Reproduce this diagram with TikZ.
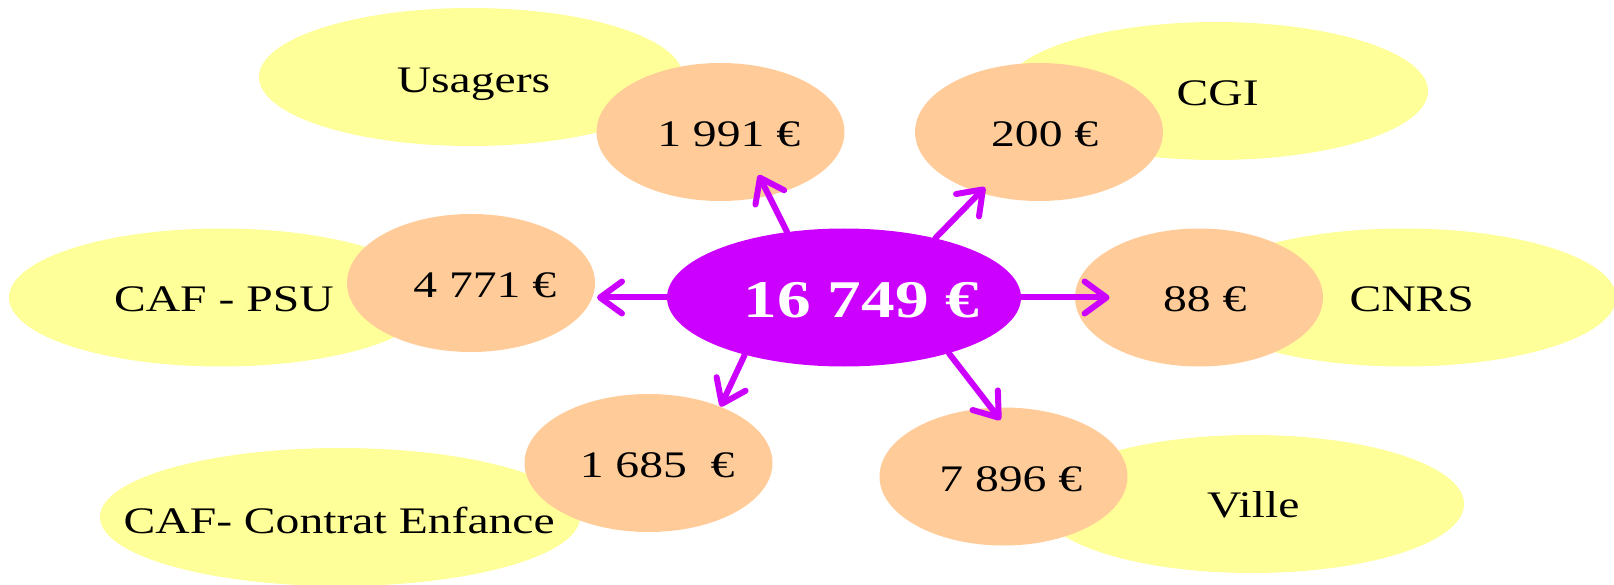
\documentclass[tikz,border=0pt]{standalone}
\usepackage{fontspec}
\setmainfont{Liberation Serif}
\newfontfamily\wideserif[FakeStretch=1.27]{Liberation Serif}
\usetikzlibrary{shapes.geometric,arrows.meta}
\definecolor{cyel}{HTML}{FFFF99}
\definecolor{corg}{HTML}{FFCC99}
\definecolor{cmag}{HTML}{CC00FF}
\tikzset{
  yel/.style={ellipse,fill=cyel,minimum width=424pt,minimum height=138pt,inner sep=0pt},
  org/.style={ellipse,fill=corg,minimum width=248pt,minimum height=138pt,inner sep=0pt},
  ctr/.style={ellipse,fill=cmag,minimum width=354pt,minimum height=138pt,inner sep=0pt},
  lbl/.style={anchor=base,inner sep=0pt,font=\wideserif\fontsize{37.5}{40}\selectfont},
  bigl/.style={anchor=base,inner sep=0pt,text=white,font=\wideserif\bfseries\fontsize{53}{56}\selectfont},
  flow/.style={draw=cmag,line width=6pt,line cap=round,line join=round,
    -{Straight Barb[length=22pt,width=32pt,line cap=round,line join=round]}}
}
\begin{document}
\begin{tikzpicture}[x=1pt,y=-1pt]
\useasboundingbox (0,0) rectangle (1614,585);
% yellow ellipses
\node[yel] (yu) at (471,77) {};
\node[yel] (yg) at (1216,91) {};
\node[yel] (yp) at (221,297.5) {};
\node[yel] (yn) at (1404,297.5) {};
\node[yel,minimum width=480pt] (ye) at (340,517) {};
\node[yel] (yv) at (1252,504) {};
% orange ellipses
\node[org] (o1) at (720.5,132) {};
\node[org] (o2) at (1039,132) {};
\node[org] (o3) at (471,283) {};
\node[org] (o4) at (1199,297.5) {};
\node[org] (o5) at (648.5,463) {};
\node[org] (o6) at (1003.5,476.5) {};
% centre
\node[ctr] (c) at (844,297.5) {};
% arrow tips
\coordinate (t1) at (758.6,175);
\coordinate (t2) at (985,187.3);
\coordinate (t3) at (597,297.5);
\coordinate (t4) at (1109.6,297.5);
\coordinate (t5) at (720.5,406.6);
\coordinate (t6) at (1000.5,420);
\draw[flow] (c.131) -- (t1);
\draw[flow] (c.33) -- (t2);
\draw[flow] (c.west) -- (t3);
\draw[flow] (c.east) -- (t4);
\draw[flow] (c.210) -- (t5);
\draw[flow] (c.332) -- (t6);
% texts
\node[lbl] (lu) at (473.5,92.6) {Usagers};
\node[lbl] (lg) at (1217.7,106) {CGI};
\node[lbl] (lp) at (223.9,312) {CAF - PSU};
\node[lbl] (ln) at (1411.7,312) {CNRS};
\node[lbl] (le) at (339.2,533) {CAF- Contrat Enfance};
\node[lbl] (lv) at (1253.2,517.7) {Ville};
\node[lbl] (v1) at (728.7,147) {1 991 €};
\node[lbl] (v2) at (1044.7,147) {200 €};
\node[lbl] (v3) at (484.8,297.5) {4 771 €};
\node[lbl] (v4) at (1204.8,312) {88 €};
\node[lbl] (v5) at (657.2,477.6) {1 685\ \ €};
\node[lbl] (v6) at (1010.8,491) {7 896 €};
\node[bigl] (vc) at (861.5,317) {16 749 €};
\end{tikzpicture}
\end{document}
